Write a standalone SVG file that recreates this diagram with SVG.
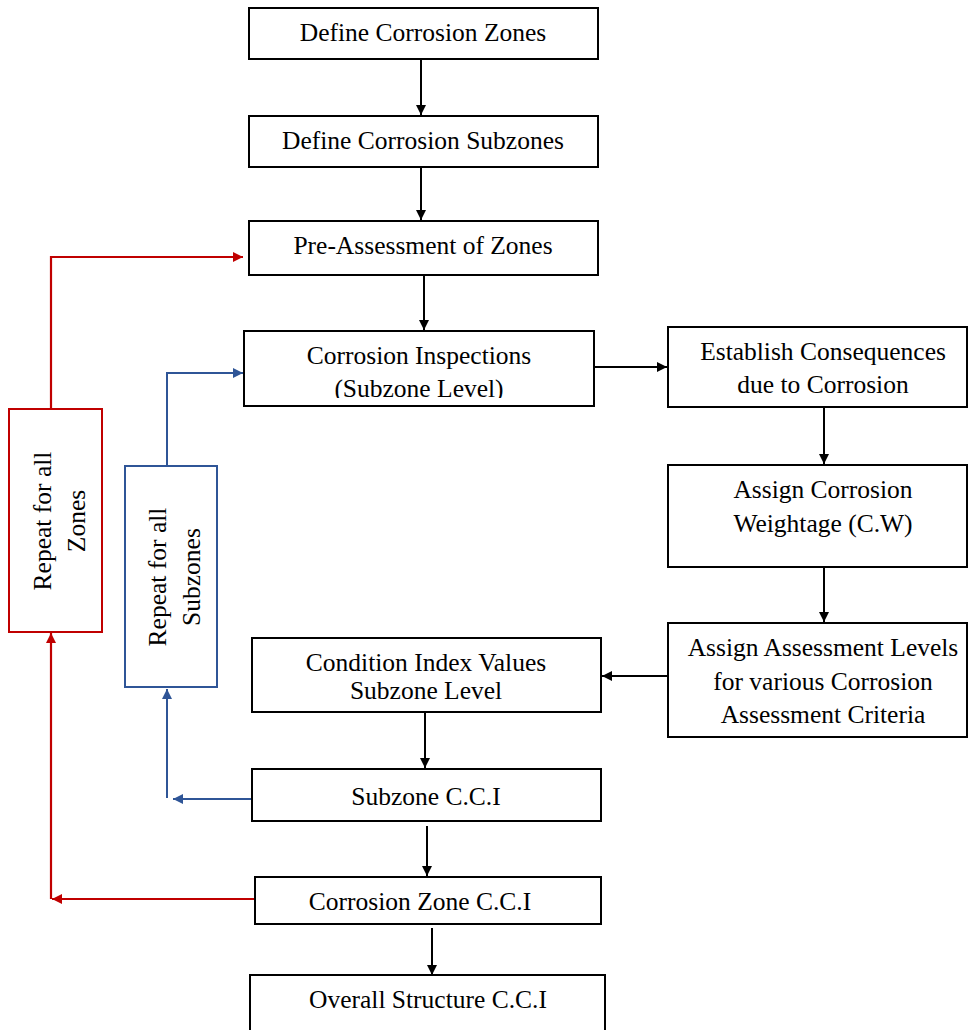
<svg xmlns="http://www.w3.org/2000/svg" width="968" height="1030" viewBox="0 0 968 1030">
  <style>
    .box { fill: #fff; stroke: #000; stroke-width: 2; }
    .rbox { fill: #fff; stroke: #C00000; stroke-width: 2; }
    .bbox { fill: #fff; stroke: #2F5597; stroke-width: 2; }
    .t { font-family: "Liberation Serif", "Times New Roman", serif; font-size: 25.5px; fill: #000; text-anchor: middle; }
    .k { fill: none; stroke: #000; stroke-width: 2; }
    .r { fill: none; stroke: #C00000; stroke-width: 2.2; }
    .b { fill: none; stroke: #2F5597; stroke-width: 2; }
  </style>
  <defs>
    <marker id="ak" markerWidth="10" markerHeight="10" refX="10" refY="5" orient="auto" markerUnits="userSpaceOnUse">
      <path d="M0,0 L10,5 L0,10 Z" fill="#000"/>
    </marker>
    <marker id="ar" markerWidth="10" markerHeight="10" refX="10" refY="5" orient="auto" markerUnits="userSpaceOnUse">
      <path d="M0,0 L10,5 L0,10 Z" fill="#C00000"/>
    </marker>
    <marker id="ab" markerWidth="10" markerHeight="10" refX="10" refY="5" orient="auto" markerUnits="userSpaceOnUse">
      <path d="M0,0 L10,5 L0,10 Z" fill="#2F5597"/>
    </marker>
    <clipPath id="clipInsp">
      <rect x="244" y="331" width="350" height="67"/>
    </clipPath>
  </defs>

  <!-- connectors -->
  <g id="connectors">
    <line class="k" x1="421" y1="59" x2="421" y2="115" marker-end="url(#ak)"/>
    <line class="k" x1="421" y1="167" x2="421" y2="220" marker-end="url(#ak)"/>
    <line class="k" x1="424" y1="276" x2="424" y2="330" marker-end="url(#ak)"/>
    <line class="k" x1="594" y1="367" x2="667" y2="367" marker-end="url(#ak)"/>
    <line class="k" x1="824" y1="408" x2="824" y2="464" marker-end="url(#ak)"/>
    <line class="k" x1="824" y1="568" x2="824" y2="622" marker-end="url(#ak)"/>
    <line class="k" x1="668" y1="676" x2="602" y2="676" marker-end="url(#ak)"/>
    <line class="k" x1="425" y1="713" x2="425" y2="768" marker-end="url(#ak)"/>
    <line class="k" x1="427" y1="826" x2="427" y2="876" marker-end="url(#ak)"/>
    <line class="k" x1="432" y1="928" x2="432" y2="975" marker-end="url(#ak)"/>
    <!-- zone loop (red) -->
    <polyline class="r" points="51,409 51,257 243,257" marker-end="url(#ar)"/>
    <polyline class="r" points="255,899 52,899" marker-end="url(#ar)"/>
    <line class="r" x1="51" y1="899" x2="51" y2="633" marker-end="url(#ar)"/>
    <!-- subzone loop (blue) -->
    <polyline class="b" points="167,466 167,373 243,373" marker-end="url(#ab)"/>
    <line class="b" x1="254" y1="799" x2="173" y2="799" marker-end="url(#ab)"/>
    <line class="b" x1="167" y1="798" x2="167" y2="689" marker-end="url(#ab)"/>
  </g>

  <g id="n-define-zones">
    <rect class="box" x="249" y="8" width="349" height="51"/>
    <text class="t" x="423" y="41">Define Corrosion Zones</text>
  </g>
  <g id="n-define-subzones">
    <rect class="box" x="249" y="116" width="349" height="51"/>
    <text class="t" x="423" y="149">Define Corrosion Subzones</text>
  </g>
  <g id="n-pre-assessment">
    <rect class="box" x="249" y="221" width="349" height="54"/>
    <text class="t" x="423" y="254">Pre-Assessment of Zones</text>
  </g>
  <g id="n-inspections">
    <rect class="box" x="244" y="331" width="350" height="75"/>
    <g clip-path="url(#clipInsp)">
      <text class="t" x="419" y="364">Corrosion Inspections</text>
      <text class="t" x="419" y="397">(Subzone Level)</text>
    </g>
  </g>
  <g id="n-consequences">
    <rect class="box" x="668" y="327" width="299" height="80"/>
    <text class="t" x="823" y="360">Establish Consequences</text>
    <text class="t" x="823" y="393">due to Corrosion</text>
  </g>
  <g id="n-weightage">
    <rect class="box" x="668" y="465" width="299" height="102"/>
    <text class="t" x="823" y="498">Assign Corrosion</text>
    <text class="t" x="823" y="532">Weightage (C.W)</text>
  </g>
  <g id="n-assessment-levels">
    <rect class="box" x="668" y="623" width="299" height="114"/>
    <text class="t" x="823" y="656">Assign Assessment Levels</text>
    <text class="t" x="823" y="690">for various Corrosion</text>
    <text class="t" x="823" y="723">Assessment Criteria</text>
  </g>
  <g id="n-condition-index">
    <rect class="box" x="252" y="638" width="349" height="74"/>
    <text class="t" x="426" y="671">Condition Index Values</text>
    <text class="t" x="426" y="699">Subzone Level</text>
  </g>
  <g id="n-subzone-cci">
    <rect class="box" x="252" y="769" width="349" height="52"/>
    <text class="t" x="426" y="805">Subzone C.C.I</text>
  </g>
  <g id="n-zone-cci">
    <rect class="box" x="255" y="877" width="346" height="47"/>
    <text class="t" x="420" y="910">Corrosion Zone C.C.I</text>
  </g>
  <g id="n-overall-cci">
    <rect class="box" x="250" y="975" width="355" height="60"/>
    <text class="t" x="428" y="1008">Overall Structure C.C.I</text>
  </g>

  <g id="n-repeat-zones">
    <rect class="rbox" x="9" y="409" width="93" height="223"/>
    <text class="t" transform="translate(51,521) rotate(-90)">Repeat for all</text>
    <text class="t" transform="translate(85,521) rotate(-90)">Zones</text>
  </g>
  <g id="n-repeat-subzones">
    <rect class="bbox" x="125" y="466" width="92" height="221"/>
    <text class="t" transform="translate(166,577) rotate(-90)">Repeat for all</text>
    <text class="t" transform="translate(200,577) rotate(-90)">Subzones</text>
  </g>
</svg>
